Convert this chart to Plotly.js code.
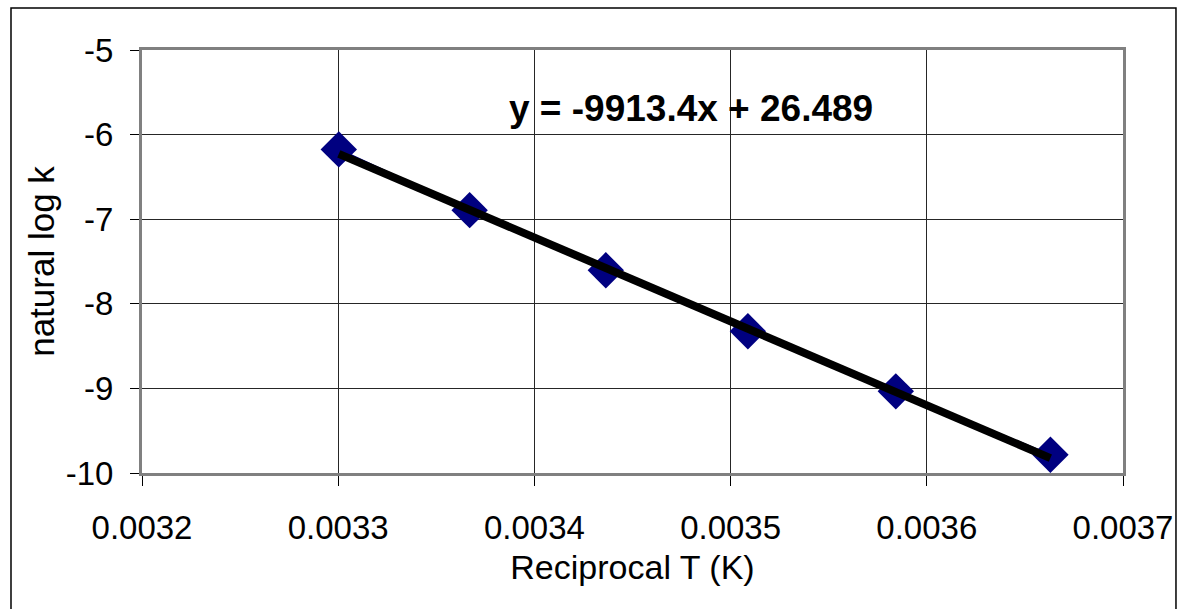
<!DOCTYPE html>
<html>
<head>
<meta charset="utf-8">
<script src="https://cdn.plot.ly/plotly-3.0.1.min.js"></script>
<style>html,body{margin:0;padding:0;background:#fff;}#chart{width:1179px;height:609px;}</style>
</head>
<body>
<div id="chart"></div>
<script>
// Data
const reciprocalT = [0.0033003, 0.0033670, 0.0034364, 0.0035088, 0.0035842, 0.0036630];
const lnK = [-6.175, -6.893, -7.604, -8.325, -9.035, -9.785];
// Trendline coefficients shown on the chart
const slope = -9913.4;
const intercept = 26.489;
const equationText = 'y = -9913.4x + 26.489';
const xTickVals = [0.0032, 0.0033, 0.0034, 0.0035, 0.0036, 0.0037];
const xTickText = ['0.0032', '0.0033', '0.0034', '0.0035', '0.0036', '0.0037'];
const yTickVals = [-10, -9, -8, -7, -6, -5];
const yTickText = ['-10', '-9', '-8', '-7', '-6', '-5'];

const xMin = Math.min(...reciprocalT), xMax = Math.max(...reciprocalT);
const trendX = [xMin, xMax];
const trendY = trendX.map(x => slope * x + intercept);

const font = 'Liberation Sans, Arial, sans-serif';

const data = [
  {
    x: reciprocalT, y: lnK, type: 'scatter', mode: 'lines+markers',
    line: {color: '#000080', width: 2},
    marker: {symbol: 'diamond', size: 28, color: '#000080'},
    showlegend: false, hoverinfo: 'skip'
  },
  {
    x: trendX, y: trendY, type: 'scatter', mode: 'lines',
    line: {color: '#000000', width: 8},
    showlegend: false, hoverinfo: 'skip'
  }
];

const layout = {
  width: 1179, height: 609,
  margin: {l: 142, r: 56, t: 50, b: 136},
  paper_bgcolor: '#ffffff', plot_bgcolor: '#ffffff',
  font: {family: font, color: '#000000', size: 33},
  xaxis: {
    range: [0.0032, 0.0037], tickvals: xTickVals, ticktext: xTickText,
    showgrid: true, gridcolor: '#262626', gridwidth: 1,
    showline: true, linecolor: '#808080', linewidth: 3, mirror: true,
    ticks: 'outside', ticklen: 10, tickcolor: '#000000', tickwidth: 1,
    ticklabelstandoff: 13,
    tickfont: {family: font, size: 33},
    zeroline: false,
    title: {text: 'Reciprocal T (K)', font: {family: font, size: 34}, standoff: 11}
  },
  yaxis: {
    range: [-10, -5], tickvals: yTickVals, ticktext: yTickText,
    showgrid: true, gridcolor: '#262626', gridwidth: 1,
    showline: true, linecolor: '#808080', linewidth: 3, mirror: true,
    ticks: 'outside', ticklen: 9, tickcolor: '#000000', tickwidth: 1,
    ticklabelstandoff: 10,
    tickfont: {family: font, size: 33},
    zeroline: false,
    title: {text: 'natural log k', font: {family: font, size: 35}, standoff: 1}
  },
  annotations: [{
    xref: 'paper', yref: 'paper', x: 0.5597, y: 0.862,
    xanchor: 'center', yanchor: 'middle', showarrow: false,
    text: '<b>' + equationText + '</b>',
    font: {family: font, size: 37, color: '#000000'}
  }],
  shapes: [{
    type: 'rect', xref: 'paper', yref: 'paper',
    x0: -0.13354, x1: 1.0540, y0: -0.34, y1: 1.0993,
    line: {color: '#000000', width: 1.5}, layer: 'below'
  }]
};

Plotly.newPlot('chart', data, layout, {displayModeBar: false, staticPlot: true});
</script>
</body>
</html>
